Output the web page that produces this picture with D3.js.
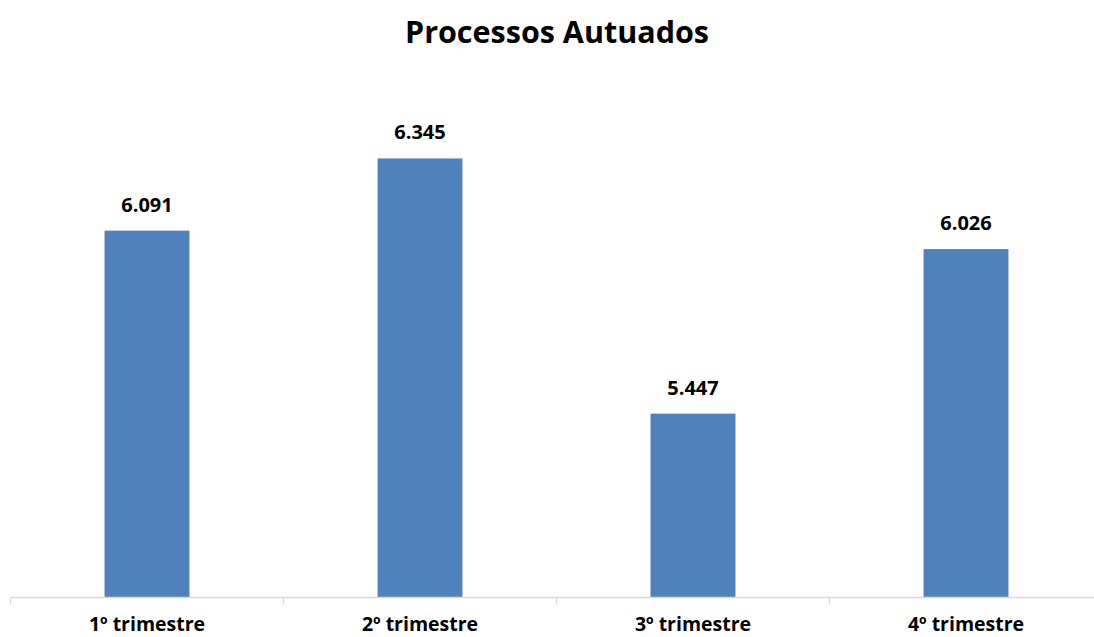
<!DOCTYPE html>
<html><head><meta charset="utf-8">
<script src="https://cdn.jsdelivr.net/npm/d3@7"></script>
<style>body{margin:0;background:#fff}svg{display:block}</style>
</head><body>
<svg id="chart" width="1094" height="637"></svg>
<script>
const title = "Processos Autuados";
const categories = ["1º trimestre","2º trimestre","3º trimestre","4º trimestre"];
const values = [6091, 6345, 5447, 6026];
const yDomain = [4800, 6600];

const svg = d3.select("#chart");
const font = "'Open Sans', sans-serif";

const x = d3.scaleBand().domain(categories).range([10.5, 1102.5]).paddingInner(0.689).paddingOuter(0.3445);
const y = d3.scaleLinear().domain(yDomain).range([597.5, 86]);
const fmt = v => d3.format(",")(v).replace(/,/g, ".");

svg.append("text").attr("x", 557).attr("y", 43).attr("text-anchor", "middle")
  .attr("font-family", font).attr("font-weight", "bold").attr("font-size", 30.5)
  .attr("fill", "#000").text(title);

svg.append("g").selectAll("rect").data(values).join("rect")
  .attr("x", (d, i) => x(categories[i]))
  .attr("width", x.bandwidth())
  .attr("y", d => y(d))
  .attr("height", d => y(yDomain[0]) - y(d))
  .attr("fill", "#4F81BD");

svg.append("g").selectAll("text").data(values).join("text")
  .attr("x", (d, i) => x(categories[i]) + x.bandwidth() / 2)
  .attr("y", d => y(d) - 19)
  .attr("text-anchor", "middle")
  .attr("font-family", font).attr("font-weight", "bold").attr("font-size", 20)
  .attr("fill", "#000").text(fmt);

const xb = d3.scaleBand().domain(categories).range([10.5, 1102.5]);
const axis = svg.append("g").attr("transform", "translate(0,597.5)")
  .call(d3.axisBottom(xb).tickSize(0).tickPadding(0));
axis.select(".domain").remove();
axis.append("line").attr("x1", 10.5).attr("x2", 1094).attr("stroke", "#D9D9D9").attr("stroke-width", 1.3);
axis.selectAll(".tickmark").data(d3.range(categories.length + 1)).join("line")
  .attr("x1", i => 10.5 + i * xb.step()).attr("x2", i => 10.5 + i * xb.step())
  .attr("y1", 0).attr("y2", 7).attr("stroke", "#D9D9D9").attr("stroke-width", 1.3);
axis.selectAll(".tick text").attr("y", 33).attr("dy", 0)
  .attr("font-family", font).attr("font-weight", "bold").attr("font-size", 19.5).attr("fill", "#000");
</script>
</body></html>
